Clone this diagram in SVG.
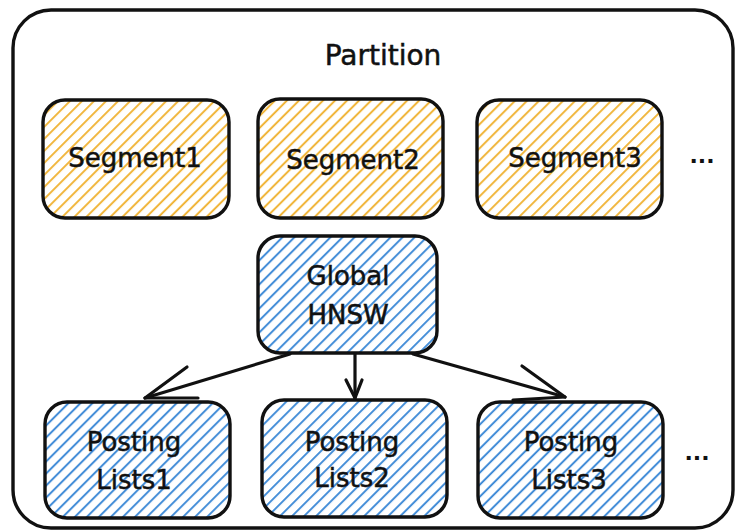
<svg xmlns="http://www.w3.org/2000/svg" width="737" height="532" viewBox="0 0 737 532">
  <style>
    .box { stroke: #111; stroke-width: 3.4; stroke-linejoin: round; }
    .yel { fill: url(#hatchY); }
    .blu { fill: url(#hatchB); }
    .lbl { font-family: "DejaVu Sans", "Liberation Sans", sans-serif; font-size: 26px; fill: #111; stroke: #111; stroke-width: 0.5; text-anchor: middle; dominant-baseline: central; }
    .dots { font-family: "DejaVu Sans", "Liberation Sans", sans-serif; font-size: 22px; font-weight: bold; fill: #111; text-anchor: middle; dominant-baseline: central; }
    .conn { fill: none; stroke: #111; stroke-width: 3.2; stroke-linecap: round; stroke-linejoin: round; }
  </style>
  <defs>
    <pattern id="hatchY" patternUnits="userSpaceOnUse" width="8.5" height="8.5" patternTransform="rotate(45)">
      <rect width="8.5" height="8.5" fill="#ffffff"/>
      <line x1="2" y1="0" x2="2" y2="8.5" stroke="#f0b232" stroke-width="1.9"/>
    </pattern>
    <pattern id="hatchB" patternUnits="userSpaceOnUse" width="8.5" height="8.5" patternTransform="rotate(45)">
      <rect width="8.5" height="8.5" fill="#ffffff"/>
      <line x1="2" y1="0" x2="2" y2="8.5" stroke="#3a88d6" stroke-width="1.9"/>
    </pattern>
  </defs>
  <rect width="737" height="532" fill="#ffffff"/>

  <g id="partition">
    <rect x="13" y="10" width="720" height="518" rx="38" fill="none" class="box"/>
    <text x="383" y="55" class="lbl" style="font-size:28px">Partition</text>
  </g>

  <g id="segment1">
    <rect x="43" y="100" width="186" height="118" rx="22" class="box yel"/>
    <text x="135" y="158" class="lbl">Segment1</text>
  </g>
  <g id="segment2">
    <rect x="258" y="99" width="185" height="119" rx="22" class="box yel"/>
    <text x="353" y="160" class="lbl">Segment2</text>
  </g>
  <g id="segment3">
    <rect x="477" y="100" width="185" height="118" rx="22" class="box yel"/>
    <text x="575" y="158" class="lbl">Segment3</text>
  </g>
  <g id="more-segments">
    <text x="702" y="155" class="dots">...</text>
  </g>

  <g id="global-hnsw">
    <rect x="258" y="236" width="179" height="117" rx="22" class="box blu"/>
    <text x="348" y="276" class="lbl">Global</text>
    <text x="348" y="315" class="lbl">HNSW</text>
  </g>

  <g id="posting-lists1">
    <rect x="45" y="402" width="185" height="116" rx="22" class="box blu"/>
    <text x="134" y="442" class="lbl">Posting</text>
    <text x="134" y="480" class="lbl">Lists1</text>
  </g>
  <g id="posting-lists2">
    <rect x="262" y="400" width="185" height="117" rx="22" class="box blu"/>
    <text x="352" y="442" class="lbl">Posting</text>
    <text x="352" y="478" class="lbl">Lists2</text>
  </g>
  <g id="posting-lists3">
    <rect x="478" y="402" width="185" height="116" rx="22" class="box blu"/>
    <text x="571" y="442" class="lbl">Posting</text>
    <text x="569" y="480" class="lbl">Lists3</text>
  </g>
  <g id="more-lists">
    <text x="697" y="452" class="dots">...</text>
  </g>

  <g id="connectors">
    <path class="conn" d="M290,354 L145,398"/>
    <path class="conn" d="M187,367 L145,398 L198,398"/>
    <path class="conn" d="M355,354 L355,398"/>
    <path class="conn" d="M346,380 L355,398 L362,380"/>
    <path class="conn" d="M413,354 L565,397"/>
    <path class="conn" d="M522,366 L565,397 L513,400"/>
  </g>
</svg>
